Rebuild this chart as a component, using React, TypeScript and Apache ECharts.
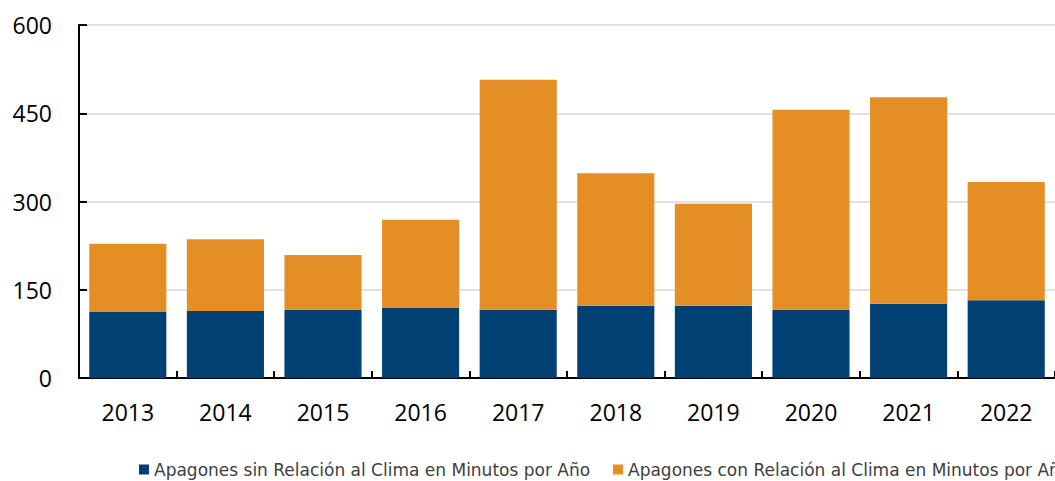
import React, { useEffect, useRef } from "react";
import * as echarts from "echarts";

const years = ["2013", "2014", "2015", "2016", "2017", "2018", "2019", "2020", "2021", "2022"];
const sinClima = [112, 114, 116, 120, 116, 123, 123, 116, 126, 132];
const conClima = [116, 122, 93, 149, 391, 225, 173, 340, 351, 201];
const seriesNames = [
  "Apagones sin Relación al Clima en Minutos por Año",
  "Apagones con Relación al Clima en Minutos por Año",
];
const FONT = "'Open Sans', Lato, sans-serif";
const LEGEND_FONT = "'DejaVu Sans', sans-serif";

export default function App() {
  const ref = useRef<HTMLDivElement>(null);
  useEffect(() => {
    if (!ref.current) return;
    const chart = echarts.init(ref.current, null, { renderer: "svg" });
    const legendBase = {
      top: 461,
      padding: 0,
      itemWidth: 10,
      itemHeight: 10,
      icon: "rect",
      textStyle: { fontFamily: LEGEND_FONT, fontSize: 17, color: "#404040" },
    };
    chart.setOption({
      animation: false,
      backgroundColor: "#ffffff",
      grid: { left: 79, right: 0, top: 25, bottom: 103 },
      legend: [
        { ...legendBase, data: [seriesNames[0]], left: 139 },
        { ...legendBase, data: [seriesNames[1]], left: 613 },
      ],
      xAxis: {
        type: "category",
        data: years,
        axisLine: { lineStyle: { color: "#000000", width: 2 } },
        axisTick: { show: true, inside: true, length: 7, alignWithLabel: false, lineStyle: { color: "#000000", width: 2 } },
        axisLabel: { fontFamily: FONT, fontSize: 23, color: "#000000", margin: 22 },
      },
      yAxis: {
        type: "value",
        min: 0,
        max: 600,
        interval: 150,
        axisLine: { show: true, lineStyle: { color: "#000000", width: 2 } },
        axisTick: { show: true, inside: true, length: 8, lineStyle: { color: "#000000", width: 2 } },
        axisLabel: { fontFamily: FONT, fontSize: 23, color: "#000000", margin: 27 },
        splitLine: { show: true, lineStyle: { color: "#d9d9d9", width: 1.5 } },
      },
      series: [
        {
          name: seriesNames[0],
          type: "bar",
          stack: "total",
          data: sinClima,
          barCategoryGap: "21%",
          itemStyle: { color: "#014073" },
        },
        {
          name: seriesNames[1],
          type: "bar",
          stack: "total",
          data: conClima,
          barCategoryGap: "21%",
          itemStyle: { color: "#E48E25" },
        },
      ],
    });
    return () => chart.dispose();
  }, []);
  return <div ref={ref} style={{ width: 1055, height: 481, position: "absolute", left: 0, top: 0 }} />;
}
